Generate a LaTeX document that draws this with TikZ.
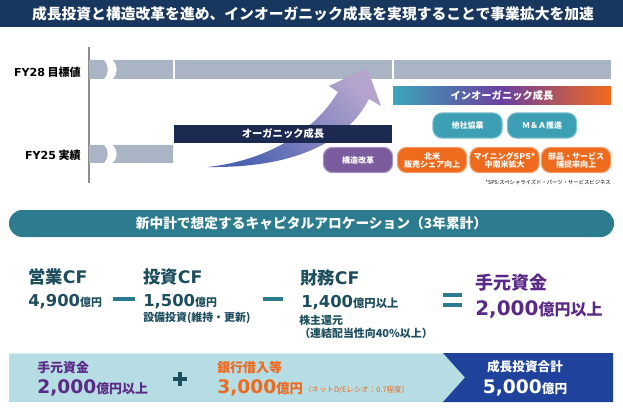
\documentclass[tikz,border=0pt]{standalone}
\usepackage{fontspec}
\setmainfont{Noto Sans CJK JP}
\newfontfamily\numfont{DejaVu Sans}
\usetikzlibrary{positioning}

\definecolor{titlenavy}{HTML}{18375F}
\definecolor{bargray}{HTML}{A9B4C5}
\definecolor{axisgray}{HTML}{8C8C8C}
\definecolor{orgnavy}{HTML}{1C2A52}
\definecolor{arrowblue}{HTML}{4B62B0}
\definecolor{arrowlav}{HTML}{B5A5CE}
\definecolor{inteal}{HTML}{3AA5BA}
\definecolor{inpurple}{HTML}{6B3F9F}
\definecolor{inorange}{HTML}{F26A1C}
\definecolor{pillteal}{HTML}{3C9FB4}
\definecolor{pillpurple}{HTML}{7B5D9F}
\definecolor{pillorange}{HTML}{EE6B1D}
\definecolor{hdrteal}{HTML}{2C7B8E}
\definecolor{cftext}{HTML}{1D4E5D}
\definecolor{fundpurple}{HTML}{5B2A86}
\definecolor{loanorange}{HTML}{EE6A1E}
\definecolor{lightblue}{HTML}{B6DCE4}
\definecolor{totalblue}{HTML}{1F439C}

\pgfdeclarehorizontalshading{inorgshade}{100bp}{color(0bp)=(inteal); color(25bp)=(inteal); color(50bp)=(inpurple); color(75bp)=(inorange); color(100bp)=(inorange)}

\newcommand{\setfs}[1]{\fontsize{#1}{#1}\selectfont}
% digits in one size, unit in another
\newcommand{\amount}[4]{{\numfont\setfs{#2}#1}{\setfs{#4}#3}}

\begin{document}
\begin{tikzpicture}[x=0.75pt,y=-0.75pt,
    every node/.style={inner sep=0pt, font=\bfseries},
    bandbox/.style={minimum width=163.5pt, minimum height=13.5pt, text=white, font=\bfseries\setfs{7.7}},
    pill/.style={rounded corners=7pt, minimum width=52pt, minimum height=19pt, line width=0.8pt,
        text=white, align=center, font=\bfseries\setfs{6}},
    tealpill/.style={pill, fill=pillteal, draw=pillteal!65!white},
    purplepill/.style={pill, fill=pillpurple, draw=pillpurple!65!white},
    orangepill/.style={pill, fill=pillorange, draw=pillorange!65!white},
    cfhead/.style={anchor=west, text=cftext, font=\bfseries\setfs{13}},
    cfvalue/.style={anchor=base west, text=cftext},
    cfnote/.style={anchor=west, text=cftext, font=\bfseries\setfs{8.2}},
    opline/.style={hdrteal, line width=2.3pt},
  ]
  \useasboundingbox (0,0) rectangle (623,413);

  % title band
  \fill[titlenavy] (0,0) rectangle (623,27);
  \node[text=white, font=\bfseries\setfs{11.1}] (title) at (313,13.5)
    {成長投資と構造改革を進め、インオーガニック成長を実現することで事業拡大を加速};

  % time axis
  \draw[axisgray, line width=0.8pt] (89,47) -- (89,183);
  \foreach \ya/\yb in {60/79,145/163} {
    \fill[bargray] (89,\ya) -- (104,\ya) .. controls (109,{\ya+5}) and (109,{\yb-5}) .. (104,\yb) -- (89,\yb) -- cycle;
    \fill[bargray] (113,\ya) -- (173,\ya) -- (173,\yb) -- (113,\yb) .. controls (118,{\yb-5}) and (118,{\ya+5}) .. (113,\ya) -- cycle;
  }
  \fill[bargray] (175,60) rectangle (392,79);
  \fill[bargray] (394,60) rectangle (611,79);

  \node[anchor=east, font=\bfseries\setfs{8.3}] (fy28) at (81,72) {{\numfont FY28} 目標値};
  \node[anchor=east, font=\bfseries\setfs{8.3}] (fy25) at (81,155) {{\numfont FY25} 実績};

  % growth arrow
  \shade[left color=arrowblue, right color=arrowlav, shading angle=135]
    (208,167) .. controls (270,160) and (315,130) .. (338,92) -- (329,86) -- (367,68)
    -- (381,106) -- (369,99) .. controls (345,145) and (290,168) .. (208,167) -- cycle;

  \node[bandbox, fill=orgnavy] (organic) at (283,134) {オーガニック成長};
  \node[bandbox, shade, shading=inorgshade] (inorganic) at (502,96) {インオーガニック成長};

  \node[tealpill] (alliance) at (467.5,125.5) {他社協業};
  \node[tealpill] (mna) at (542,125.5) {Ｍ＆Ａ推進};
  \node[purplepill] (reform) at (358,160) {構造改革};
  \node[orangepill] (namerica) at (432,160) {北米\\販売シェア向上};
  \node[orangepill] (mining) at (504.5,160) {マイニング{\numfont SPS}*\\中南米拡大};
  \node[orangepill] (parts) at (576,160) {部品・サービス\\捕捉率向上};
  \node[anchor=east, font=\setfs{4}] (spsnote) at (611,182) {*SPS:スペシャライズド・パーツ・サービスビジネス};

  % allocation header
  \node[fill=hdrteal, rounded corners=10pt, minimum width=453.75pt, minimum height=20.25pt,
    text=white, font=\bfseries\setfs{10.3}] (alloc) at (311.5,223.5)
    {新中計で想定するキャピタルアロケーション（3年累計）};

  % cash flow equation
  \node[cfhead] (opcf) at (28,277) {営業{\numfont CF}};
  \node[cfvalue] (opcfval) at (28,306) {\amount{4,900}{12.3}{億円}{8.2}};
  \draw[opline] (113,299) -- (135,299);
  \node[cfhead] (invcf) at (143,277) {投資{\numfont CF}};
  \node[cfvalue] (invcfval) at (143,306) {\amount{1,500}{12.3}{億円}{8.2}};
  \node[cfnote] (invnote) at (143,318) {設備投資(維持・更新)};
  \draw[opline] (263,299) -- (283,299);
  \node[cfhead] (fincf) at (300,278) {財務{\numfont CF}};
  \node[cfvalue] (fincfval) at (301,307) {\amount{1,400}{12.3}{億円以上}{8.5}};
  \node[cfnote] (finnote) at (299,320) {株主還元};
  \node[cfnote] (finnote2) at (299,333) {（連結配当性向40\%以上）};
  \draw[opline] (443,295) -- (462,295) (443,305) -- (462,305);
  \node[anchor=west, text=fundpurple, font=\bfseries\setfs{13.5}] (cash) at (475,283) {手元資金};
  \node[anchor=base west, text=fundpurple] (cashval) at (475,315) {\amount{2,000}{15}{億円以上}{12}};

  % growth investment total
  \fill[lightblue] (9,353) rectangle (613,402);
  \draw[lightblue!55!white, line width=0.8pt] (9,353.5) -- (443,353.5);
  \fill[totalblue] (443,353) -- (613,353) -- (613,402) -- (443,402) -- (465,377.5) -- cycle;
  \node[anchor=west, text=fundpurple, font=\bfseries\setfs{9.7}] (cash2) at (37,368) {手元資金};
  \node[anchor=base west, text=fundpurple] (cash2val) at (37,393) {\amount{2,000}{14}{億円以上}{9.7}};
  \draw[cftext, line width=2.3pt] (173,379) -- (187,379) (180,372) -- (180,386);
  \node[anchor=west, text=loanorange, font=\bfseries\setfs{9.7}] (loan) at (217,368) {銀行借入等};
  \node[anchor=base west, text=loanorange] (loanval) at (217,393) {\amount{3,000}{14}{億円}{10}};
  \node[anchor=base west, text=loanorange, font=\setfs{5.6}] (loannote) at (304,392) {（ネットD/Eレシオ：0.7程度）};
  \node[text=white, font=\bfseries\setfs{9.5}] (total) at (525,367) {成長投資合計};
  \node[anchor=base, text=white] (totalval) at (525,393) {\amount{5,000}{14}{億円}{9.5}};
\end{tikzpicture}
\end{document}
